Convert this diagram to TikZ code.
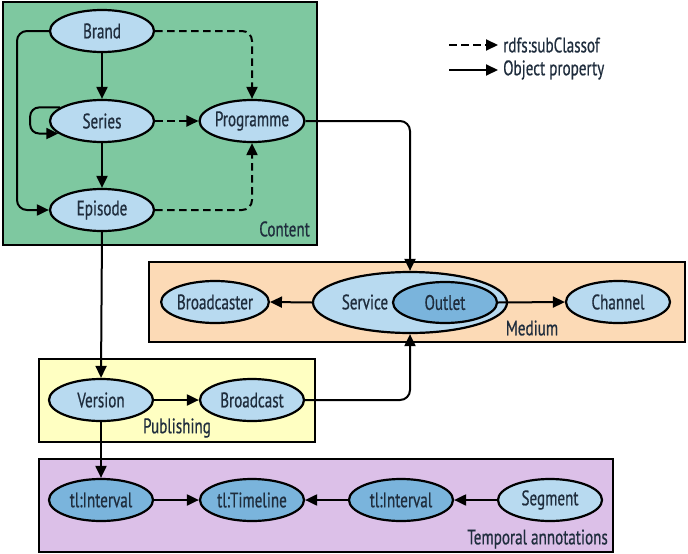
\documentclass[tikz,border=0pt]{standalone}
\usepackage{fontspec}
\setmainfont{PT Sans}[FakeStretch=0.72,FakeBold=0.6]
\usetikzlibrary{shapes.geometric,arrows.meta,calc}
\definecolor{contentfill}{HTML}{7EC8A0}
\definecolor{mediumfill}{HTML}{FCDAB6}
\definecolor{pubfill}{HTML}{FFFFC2}
\definecolor{tempfill}{HTML}{DCC0E8}
\definecolor{lightblue}{HTML}{B8DAF0}
\definecolor{darkblue}{HTML}{7AB4DC}
\definecolor{txt}{HTML}{1F2D3D}
\tikzset{
  cls/.style={ellipse, draw=black, line width=2.2pt, fill=lightblue, minimum width=104pt, minimum height=42pt, inner sep=0pt, text=txt, font=\fontsize{21}{22}\selectfont},
  dcls/.style={cls, fill=darkblue},
  grp/.style={draw=black, line width=2pt},
  grplabel/.style={text=txt, font=\fontsize{21}{22}\selectfont, inner sep=0pt},
  obj/.style={line width=2pt, -{Triangle[length=12pt,width=11pt]}},
  sub/.style={obj, dash pattern=on 7.5pt off 4.5pt},
}
\begin{document}
\begin{tikzpicture}[x=1pt,y=-1pt]
\useasboundingbox (0,0) rectangle (688,554);
% group boxes
\path[grp, fill=contentfill] (3,2) rectangle (317,245);
\path[grp, fill=mediumfill] (149,262) rectangle (685,342);
\path[grp, fill=pubfill] (39,359) rectangle (315,442);
\path[grp, fill=tempfill] (39,459) rectangle (613,552);
\node[grplabel, anchor=east] (lcontent) at (310,229) {Content};
\node[grplabel] (lmedium) at (532,328) {Medium};
\node[grplabel] (lpub) at (177,428) {Publishing};
\node[grplabel, anchor=east] (ltemp) at (608,539) {Temporal annotations};
% content
\node[cls] (brand) at (102,31) {Brand};
\node[cls] (series) at (102,121) {Series};
\node[cls] (episode) at (102,210) {Episode};
\node[cls] (programme) at (252,121) {Programme};
% medium
\node[cls, minimum width=194pt, minimum height=61pt] (service) at (410,302.5) {};
\node[grplabel] (servicetext) at (365,302) {Service};
\node[dcls, minimum height=41pt] (outlet) at (445,302.5) {Outlet};
\node[cls] (broadcaster) at (215,302) {Broadcaster};
\node[cls] (channel) at (618,302) {Channel};
% publishing
\node[cls] (version) at (101,400) {Version};
\node[cls] (broadcast) at (252,400) {Broadcast};
% temporal
\node[dcls] (int1) at (101,500) {tl:Interval};
\node[dcls] (timeline) at (252,500) {tl:Timeline};
\node[dcls] (int2) at (401,500) {tl:Interval};
\node[cls] (segment) at (550,500) {Segment};
% legend
\coordinate (ls1) at (449,45);
\coordinate (le1) at (498,45);
\coordinate (ls2) at (449,70);
\coordinate (le2) at (498,70);
\draw[sub] (ls1) -- (le1);
\draw[obj] (ls2) -- (le2);
\node[grplabel, anchor=west] (leg1) at (503,45) {rdfs:subClassof};
\node[grplabel, anchor=west] (leg2) at (503,70) {Object property};
% edges content
\draw[obj] (brand) -- (series);
\draw[obj] (series) -- (episode);
\draw[obj, rounded corners=10pt] (brand.west) -- (17,31) -- (17,210) -- (episode.west);
\draw[sub, rounded corners=10pt] (brand.east) -| (programme.north);
\draw[sub] (series.east) -- (programme.west);
\draw[sub, rounded corners=10pt] (episode.east) -| (programme.south);
\draw[obj, rounded corners=9pt] (series.162) -- ($(series.162)+(-30,0)$) |- (series.196);
% edges to medium
\draw[obj, rounded corners=10pt] (programme.east) -| (service.north);
\draw[obj] (service.west) -- (broadcaster.east);
\draw[obj] (outlet.east) -- (channel.west);
% publishing
\draw[obj] (episode.south) -- (version.north);
\draw[obj] (version.east) -- (broadcast.west);
\draw[obj, rounded corners=10pt] (broadcast.east) -| (service.south);
% temporal
\draw[obj] (version.south) -- (int1.north);
\draw[obj] (int1.east) -- (timeline.west);
\draw[obj] (int2.west) -- (timeline.east);
\draw[obj] (segment.west) -- (int2.east);
\end{tikzpicture}
\end{document}
